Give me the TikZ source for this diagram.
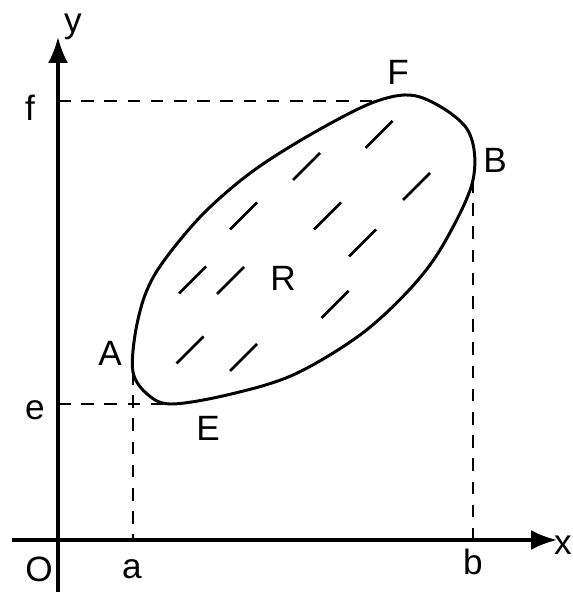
\documentclass[tikz,border=0pt]{standalone}
\usepackage{fontspec}
\setmainfont{Liberation Sans}
\usetikzlibrary{arrows.meta}

\begin{document}
\begin{tikzpicture}[
        font=\fontsize{10}{12}\selectfont,
        axis/.style={-{Latex[length=2.6mm, width=2mm]}, line width=0.9pt},
        guide/.style={dash pattern=on 3.6pt off 3pt, line width=0.75pt},
        rim/.style={line width=0.85pt},
        hatch/.style={line width=0.8pt},
        lbl/.style={inner sep=1pt}
    ]
    \useasboundingbox (-0.58,-0.52) rectangle (5.15,5.40);
    \coordinate (O) at (0,0);
    \coordinate (xs) at (-0.46,0);
    \coordinate (xe) at (4.99,0);
    \coordinate (ys) at (0,-0.52);
    \coordinate (ye) at (0,5.03);
    \coordinate (fy) at (0,4.39);
    \coordinate (ey) at (0,1.36);
    \coordinate (ax) at (0.75,0);
    \coordinate (bx) at (4.15,0);
    \coordinate (A) at (0.75,1.68);
    \coordinate (E) at (1.12,1.36);
    \coordinate (F) at (3.19,4.39);
    \coordinate (B) at (4.15,3.60);
    \draw[axis] (xs) -- (xe);
    \draw[axis] (ys) -- (ye);
    \draw[guide] (fy) -- (F);
    \draw[guide] (ey) -- (E);
    \draw[guide] (A) -- (ax);
    \draw[guide] (B) -- (bx);
    \draw[rim] plot[smooth cycle, tension=0.55] coordinates {
        (A) (0.77,2.05) (0.87,2.45) (1.05,2.78) (1.45,3.26) (1.95,3.69) (2.57,4.08) (F)
        (3.62,4.43) (4.09,4.11) (B) (3.85,2.95) (3.52,2.51) (3.02,2.05)
        (2.35,1.65) (1.69,1.45) (E) (0.88,1.47)};
    \foreach \hx/\hy in {1.855/3.24, 1.345/2.60, 1.725/2.595, 3.21/4.055, 2.485/3.735,
        2.695/3.24, 3.585/3.535, 3.045/2.97, 2.77/2.355, 1.32/1.90, 1.855/1.825}
        \draw[hatch] (\hx,\hy) ++(-0.135,-0.135) -- ++(0.27,0.27);
    \node[lbl] (labO) at (-0.19,-0.29) {O};
    \node[lbl] (laba) at (0.74,-0.29) {a};
    \node[lbl] (labb) at (4.15,-0.22) {b};
    \node[lbl] (labx) at (5.05,-0.05) {x};
    \node[lbl] (laby) at (0.15,5.13) {y};
    \node[lbl] (labf) at (-0.28,4.32) {f};
    \node[lbl] (labe) at (-0.23,1.30) {e};
    \node[lbl] (labA) at (0.52,1.87) {A};
    \node[lbl] (labE) at (1.50,1.12) {E};
    \node[lbl] (labF) at (3.40,4.68) {F};
    \node[lbl] (labB) at (4.37,3.80) {B};
    \node[lbl] (labR) at (2.25,2.62) {R};
\end{tikzpicture}
\end{document}
